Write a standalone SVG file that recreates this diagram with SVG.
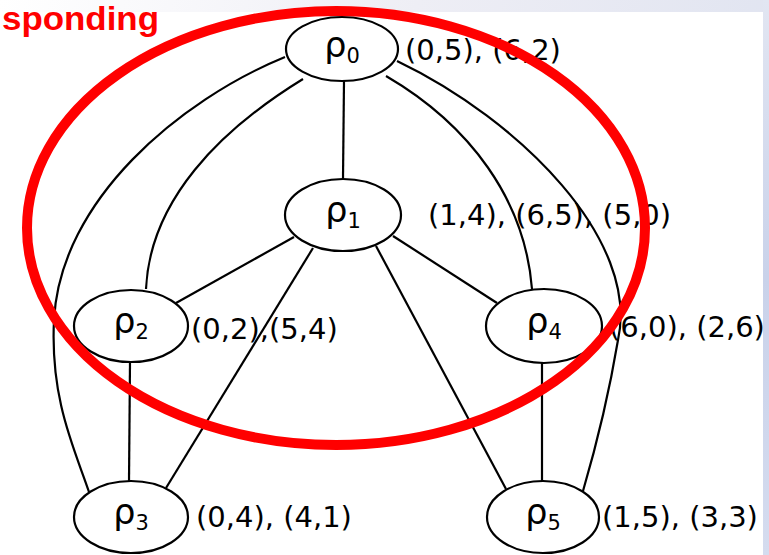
<svg xmlns="http://www.w3.org/2000/svg" width="769" height="555" viewBox="0 0 769 555">
<defs>
<linearGradient id="bg" x1="0" y1="0" x2="1" y2="0.3">
<stop offset="0" stop-color="#ffffff"/>
<stop offset="0.5" stop-color="#eeeef5"/>
<stop offset="1" stop-color="#dfe3f0"/>
</linearGradient>
<linearGradient id="side" x1="0" y1="0" x2="0" y2="1">
<stop offset="0" stop-color="#e2e6f2"/>
<stop offset="0.5" stop-color="#c9d2ea"/>
<stop offset="1" stop-color="#d5dcef"/>
</linearGradient>
<style>
.edge{fill:none;stroke:#000;stroke-width:2.2}
.node ellipse{fill:#fff;stroke:#000;stroke-width:2.2}
.nl{font-family:"DejaVu Sans",sans-serif;font-size:35px;fill:#000}
.sub{font-size:21px}
.lab{font-family:"DejaVu Sans",sans-serif;font-size:29px;fill:#000}
</style>
</defs>
<rect x="0" y="0" width="769" height="555" fill="url(#bg)"/>
<rect x="763" y="0" width="6" height="555" fill="url(#side)"/>
<rect x="0" y="12" width="763" height="543" fill="#fff"/>
<text x="2" y="30" font-family="'Liberation Sans',Arial,sans-serif" font-weight="bold" font-size="33" fill="#f00" textLength="157" lengthAdjust="spacingAndGlyphs">sponding</text>
<g id="edges">
<line class="edge" x1="344" y1="81" x2="343" y2="178"/>
<path class="edge" d="M303,79 C220,130 150,200 146,289"/>
<path class="edge" d="M285,57 C180,100 60,200 54,320 C50,400 75,450 89,492"/>
<path class="edge" d="M386,76 C470,125 525,200 532,289"/>
<path class="edge" d="M397,61 C520,120 640,240 618,340 C608,400 595,450 583,491"/>
<line class="edge" x1="294" y1="237" x2="176" y2="303"/>
<line class="edge" x1="313" y1="248" x2="166" y2="488"/>
<line class="edge" x1="393" y1="236" x2="497" y2="303"/>
<line class="edge" x1="376" y1="246" x2="506" y2="489"/>
<line class="edge" x1="130" y1="362" x2="129" y2="481"/>
<line class="edge" x1="542" y1="363" x2="542" y2="481"/>
</g>
<g id="rho0" class="node">
<ellipse cx="342" cy="49" rx="56" ry="32"/>
<text class="nl" x="342" y="57" text-anchor="middle">ρ<tspan class="sub" dy="6">0</tspan></text>
<text class="lab" x="405" y="60">(0,5), (6,2)</text>
</g>
<g id="rho1" class="node">
<ellipse cx="343" cy="215" rx="58" ry="36"/>
<text class="nl" x="343" y="222" text-anchor="middle">ρ<tspan class="sub" dy="6">1</tspan></text>
<text class="lab" x="428" y="225">(1,4), (6,5), (5,0)</text>
</g>
<g id="rho2" class="node">
<ellipse cx="131" cy="326" rx="57" ry="36"/>
<text class="nl" x="131" y="333" text-anchor="middle">ρ<tspan class="sub" dy="6">2</tspan></text>
<text class="lab" x="191" y="339">(0,2),(5,4)</text>
</g>
<g id="rho4" class="node">
<ellipse cx="544" cy="326" rx="58" ry="37"/>
<text class="nl" x="544" y="333" text-anchor="middle">ρ<tspan class="sub" dy="6">4</tspan></text>
<text class="lab" x="609" y="337">(6,0), (2,6)</text>
</g>
<g id="rho3" class="node">
<ellipse cx="131" cy="517" rx="57" ry="36"/>
<text class="nl" x="131" y="524" text-anchor="middle">ρ<tspan class="sub" dy="6">3</tspan></text>
<text class="lab" x="196" y="527">(0,4), (4,1)</text>
</g>
<g id="rho5" class="node">
<ellipse cx="543" cy="517" rx="56" ry="36"/>
<text class="nl" x="543" y="524" text-anchor="middle">ρ<tspan class="sub" dy="6">5</tspan></text>
<text class="lab" x="602" y="527">(1,5), (3,3)</text>
</g>
<ellipse cx="336" cy="228" rx="309" ry="217" fill="none" stroke="#f00" stroke-width="10"/>
</svg>
